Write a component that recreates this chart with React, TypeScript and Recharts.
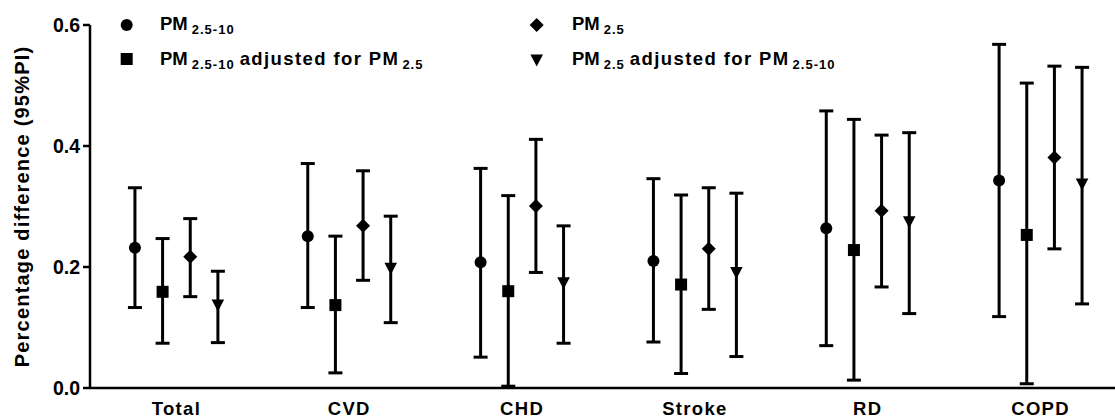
import React from "react";
import {
  ScatterChart,
  Scatter,
  XAxis,
  YAxis,
  ErrorBar,
  Legend,
} from "recharts";

const FONT = "'Liberation Sans', Arial, sans-serif";

// categories on the x axis
const categories = ["Total", "CVD", "CHD", "Stroke", "RD", "COPD"];
const yTicks = [0, 0.2, 0.4, 0.6];

// PM2.5-10 (circle)
const coarseEst = [0.232, 0.251, 0.208, 0.21, 0.264, 0.343];
const coarseLow = [0.133, 0.133, 0.051, 0.076, 0.07, 0.118];
const coarseHigh = [0.331, 0.371, 0.363, 0.346, 0.458, 0.568];

// PM2.5-10 adjusted for PM2.5 (square)
const coarseAdjEst = [0.159, 0.137, 0.16, 0.171, 0.228, 0.253];
const coarseAdjLow = [0.074, 0.025, 0.003, 0.024, 0.013, 0.007];
const coarseAdjHigh = [0.247, 0.251, 0.318, 0.319, 0.444, 0.504];

// PM2.5 (diamond)
const fineEst = [0.217, 0.268, 0.301, 0.23, 0.293, 0.381];
const fineLow = [0.151, 0.178, 0.191, 0.13, 0.167, 0.23];
const fineHigh = [0.28, 0.359, 0.411, 0.331, 0.418, 0.532];

// PM2.5 adjusted for PM2.5-10 (triangle down)
const fineAdjEst = [0.137, 0.198, 0.174, 0.191, 0.275, 0.337];
const fineAdjLow = [0.075, 0.108, 0.074, 0.052, 0.123, 0.139];
const fineAdjHigh = [0.193, 0.284, 0.268, 0.322, 0.422, 0.53];

// build scatter rows, shifted inside each category band
const buildRows = (est: number[], low: number[], high: number[], shift: number) =>
  est.map((v, i) => ({
    x: i + shift,
    y: v,
    err: [v - low[i], high[i] - v],
  }));

const coarseRows = buildRows(coarseEst, coarseLow, coarseHigh, -0.24);
const coarseAdjRows = buildRows(coarseAdjEst, coarseAdjLow, coarseAdjHigh, -0.08);
const fineRows = buildRows(fineEst, fineLow, fineHigh, 0.08);
const fineAdjRows = buildRows(fineAdjEst, fineAdjLow, fineAdjHigh, 0.24);

type MarkerKind = "circle" | "square" | "diamond" | "triangle";

const Marker = ({ kind, cx, cy }: { kind: MarkerKind; cx: number; cy: number }) => {
  if (kind === "circle") return <circle cx={cx} cy={cy} r={6} fill="#000" />;
  if (kind === "square")
    return <rect x={cx - 6} y={cy - 6} width={12} height={12} fill="#000" />;
  if (kind === "diamond")
    return (
      <polygon
        points={`${cx},${cy - 7} ${cx + 7},${cy} ${cx},${cy + 7} ${cx - 7},${cy}`}
        fill="#000"
      />
    );
  return (
    <polygon
      points={`${cx - 6.3},${cy - 5.5} ${cx + 6.3},${cy - 5.5} ${cx},${cy + 6.5}`}
      fill="#000"
    />
  );
};

const shapeFor = (kind: MarkerKind) => (props: any) =>
  <Marker kind={kind} cx={props.cx} cy={props.cy} />;

// legend drawn as svg so subscripts sit right
const LegendContent = () => {
  const textProps = {
    fontFamily: FONT,
    fontWeight: "bold" as const,
    fontSize: 18.5,
    fill: "#000",
  };
  const sub = { fontSize: 13, letterSpacing: 1 };
  return (
    <svg width={900} height={80} style={{ display: "block" }}>
      <Marker kind="circle" cx={126.7} cy={25} />
      <Marker kind="square" cx={126.7} cy={59} />
      <Marker kind="diamond" cx={536.7} cy={25} />
      <Marker kind="triangle" cx={536.7} cy={60} />

      <text x={160} y={30} {...textProps}>
        PM
        <tspan dx={4} dy={4} {...sub}>2.5-10</tspan>
      </text>
      <text x={160} y={65} {...textProps}>
        PM
        <tspan dx={4} dy={4} {...sub}>2.5-10</tspan>
        <tspan dx={5} dy={-4} letterSpacing={1.4}>adjusted for PM</tspan>
        <tspan dx={3} dy={4} {...sub}>2.5</tspan>
      </text>

      <text x={572} y={30} {...textProps}>
        PM
        <tspan dx={4} dy={4} {...sub}>2.5</tspan>
      </text>
      <text x={572} y={65} {...textProps}>
        PM
        <tspan dx={4} dy={4} {...sub}>2.5</tspan>
        <tspan dx={5} dy={-4} letterSpacing={1.4}>adjusted for PM</tspan>
        <tspan dx={3} dy={4} {...sub}>2.5-10</tspan>
      </text>
    </svg>
  );
};

const YTitle = (props: any) => {
  const vb = props.viewBox || {};
  const cy = (vb.y || 25) + (vb.height || 363) / 2;
  return (
    <text
      x={22}
      y={cy}
      transform={`rotate(-90, 22, ${cy})`}
      textAnchor="middle"
      dominantBaseline="central"
      fontFamily={FONT}
      fontWeight="bold"
      fontSize={20}
      letterSpacing={1.2}
      fill="#000"
    >
      Percentage difference (95%PI)
    </text>
  );
};

const errProps = {
  dataKey: "err",
  direction: "y" as const,
  width: 7,
  strokeWidth: 3,
  stroke: "#000",
  isAnimationActive: false,
};

export default function App() {
  return (
    <div
      style={{
        position: "absolute",
        left: 0,
        top: 0,
        width: 1115,
        height: 419,
        overflow: "hidden",
        background: "#fff",
      }}
    >
      <ScatterChart
        width={1127}
        height={419}
        margin={{ top: 25, right: 0, bottom: 0, left: 0 }}
      >
        <XAxis
          type="number"
          dataKey="x"
          domain={[-0.5, 5.5]}
          ticks={[0, 1, 2, 3, 4, 5]}
          tickFormatter={(i: number) => categories[i]}
          allowDataOverflow
          height={31}
          tickLine={false}
          tickSize={0}
          tickMargin={14}
          axisLine={{ stroke: "#000", strokeWidth: 2.5 }}
          tick={{ fill: "#000", fontSize: 18.5, fontWeight: "bold", fontFamily: FONT, letterSpacing: 1.3 }}
        />
        <YAxis
          type="number"
          dataKey="y"
          domain={[0, 0.6]}
          ticks={yTicks}
          tickFormatter={(v: number) => v.toFixed(1)}
          width={90}
          tickSize={7}
          tickMargin={3}
          axisLine={{ stroke: "#000", strokeWidth: 2.5 }}
          tickLine={{ stroke: "#000", strokeWidth: 2.5 }}
          tick={{ fill: "#000", fontSize: 19.5, fontWeight: "bold", fontFamily: FONT }}
          label={{ content: YTitle }}
        />
        <Legend
          layout="vertical"
          align="center"
          verticalAlign="middle"
          wrapperStyle={{ top: 0, left: 0, width: 900, height: 80 }}
          content={LegendContent}
        />
        <Scatter data={coarseRows} name="PM2.5-10" shape={shapeFor("circle")} isAnimationActive={false}>
          <ErrorBar {...errProps} />
        </Scatter>
        <Scatter data={coarseAdjRows} name="PM2.5-10 adjusted for PM2.5" shape={shapeFor("square")} isAnimationActive={false}>
          <ErrorBar {...errProps} />
        </Scatter>
        <Scatter data={fineRows} name="PM2.5" shape={shapeFor("diamond")} isAnimationActive={false}>
          <ErrorBar {...errProps} />
        </Scatter>
        <Scatter data={fineAdjRows} name="PM2.5 adjusted for PM2.5-10" shape={shapeFor("triangle")} isAnimationActive={false}>
          <ErrorBar {...errProps} />
        </Scatter>
      </ScatterChart>
    </div>
  );
}
